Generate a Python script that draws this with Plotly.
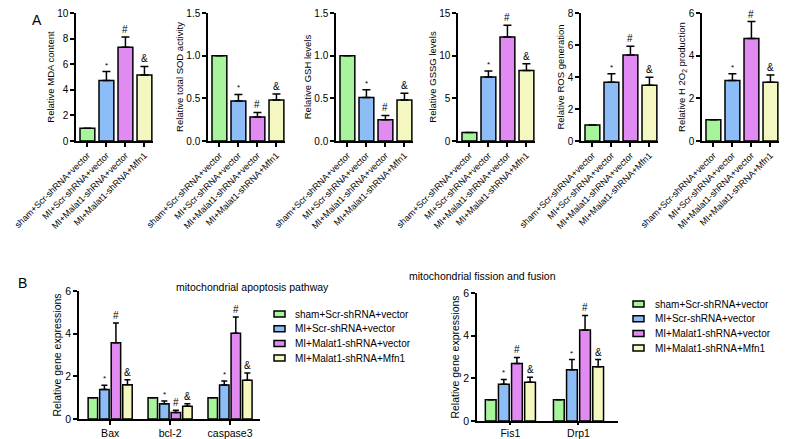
import plotly.graph_objects as go

W, H = 787, 439
FONT = "Liberation Sans, Arial, sans-serif"

groups = ["sham+Scr-shRNA+vector", "MI+Scr-shRNA+vector",
          "MI+Malat1-shRNA+vector", "MI+Malat1-shRNA+Mfn1"]
marks = ["", "*", "#", "&"]
colors = ["#a7f59b", "#8dbdf6", "#e08af2", "#f4f8c0"]

# panel A: mean and upper error bar end for each group
mda = [1.0, 4.72, 7.32, 5.15]
mda_top = [1.0, 5.42, 8.12, 5.82]
sod = [1.0, 0.47, 0.28, 0.48]
sod_top = [1.0, 0.545, 0.335, 0.55]
gsh = [1.0, 0.51, 0.25, 0.48]
gsh_top = [1.0, 0.60, 0.30, 0.56]
gssg = [1.0, 7.5, 12.2, 8.25]
gssg_top = [1.0, 8.2, 13.55, 9.05]
ros = [1.0, 3.67, 5.38, 3.48]
ros_top = [1.0, 4.2, 5.92, 3.98]
h2o2 = [1.0, 2.84, 4.8, 2.75]
h2o2_top = [1.0, 3.15, 5.6, 3.09]

a_titles = ["Relative MDA content", "Relative total SOD activity",
            "Relative GSH levels", "Relative GSSG levels",
            "Relative ROS generation", "Relative H 2O<sub>2</sub> production"]
a_ranges = [10, 1.5, 1.5, 15, 8, 6]
a_dticks = [2, 0.5, 0.5, 5, 2, 2]

# panel B: genes x groups
apop_genes = ["Bax", "bcl-2", "caspase3"]
apop = [[1.0, 1.0, 1.0], [1.38, 0.72, 1.59], [3.57, 0.31, 4.02], [1.61, 0.6, 1.82]]
apop_top = [[1.0, 1.0, 1.0], [1.58, 0.84, 1.78], [4.5, 0.41, 4.78], [1.84, 0.72, 2.16]]
fis_genes = ["Fis1", "Drp1"]
fis = [[1.0, 1.0], [1.72, 2.4], [2.7, 4.27], [1.82, 2.54]]
fis_top = [[1.0, 1.0], [1.95, 2.88], [2.98, 4.95], [2.05, 2.88]]


def xd(a, b):
    return [a / W, b / W]


def yd(top, bottom):
    return [1 - bottom / H, 1 - top / H]


def axis_style(**kw):
    d = dict(showline=True, linecolor="black", linewidth=1.5, ticks="outside",
             ticklen=4, tickwidth=1.5, tickcolor="black", showgrid=False,
             zeroline=False, automargin=False, fixedrange=True,
             tickfont=dict(size=10, color="black"))
    d.update(kw)
    return d


def mark_font(m):
    return dict(size=8 if m == "*" else 10, color="black")


fig = go.Figure()
layout = {}
annotations = []
shapes = []

a_left = [76, 208, 336, 458, 581, 702]
a_vals = [(mda, mda_top), (sod, sod_top), (gsh, gsh_top),
          (gssg, gssg_top), (ros, ros_top), (h2o2, h2o2_top)]

for i, (vals, tops) in enumerate(a_vals):
    n = i + 1
    xa, ya = f"x{n}", f"y{n}"
    fig.add_trace(go.Bar(
        x=groups, y=vals, xaxis=xa, yaxis=ya, width=0.78,
        marker=dict(color=colors, line=dict(color="black", width=1.5)),
        error_y=dict(type="data", symmetric=False,
                     array=[t - v for t, v in zip(tops, vals)],
                     arrayminus=[0] * 4, color="black", thickness=1.5, width=4),
        showlegend=False, hoverinfo="skip",
    ))
    layout[f"xaxis{n}"] = axis_style(
        domain=xd(a_left[i], a_left[i] + 77), anchor=ya, type="category",
        range=[-0.6, 3.45], tickangle=-45, tickfont=dict(size=9, color="black"))
    layout[f"yaxis{n}"] = axis_style(
        domain=yd(13, 141), anchor=xa, range=[0, a_ranges[i]], dtick=a_dticks[i],
        tickformat=".1f" if a_ranges[i] < 2 else "",
        title=dict(text=a_titles[i], font=dict(size=9.5, color="black"), standoff=1))
    for j, m in enumerate(marks):
        if m:
            annotations.append(dict(
                x=j, y=tops[j], xref=xa, yref=ya, text=m, showarrow=False,
                yanchor="bottom", yshift=0, font=mark_font(m)))

BARGAP = 0.23
b_panels = [
    (apop_genes, apop, apop_top, 7, [79, 260], [291, 419], [-0.52, 2.5], 4,
     "mitochondrial apoptosis pathway", 174, 287, (274, 293, 314)),
    (fis_genes, fis, fis_top, 8, [477, 618], [293, 421], [-0.49, 1.58], 2,
     "mitochondrial fission and fusion", 558, 276, (633, 653, 304)),
]
for genes, vals, tops, n, xr, yr, rng, tl, title, tx, ty, leg in b_panels:
    xa, ya = f"x{n}", f"y{n}"
    for g in range(4):
        fig.add_trace(go.Bar(
            x=genes, y=vals[g], name=groups[g], xaxis=xa, yaxis=ya,
            marker=dict(color=colors[g], line=dict(color="black", width=1.5)),
            error_y=dict(type="data", symmetric=False,
                         array=[t - v for t, v in zip(tops[g], vals[g])],
                         arrayminus=[0] * len(genes), color="black",
                         thickness=1.5, width=3),
            showlegend=False, hoverinfo="skip",
        ))
        slot = (1 - BARGAP) / 4
        off = (g - 1.5) * slot
        if marks[g]:
            for k in range(len(genes)):
                annotations.append(dict(
                    x=k + off, y=tops[g][k], xref=xa, yref=ya, text=marks[g],
                    showarrow=False, yanchor="bottom", yshift=0,
                    font=mark_font(marks[g])))
        # hand-drawn legend entry (Prism style flat swatch)
        sx, tx0, y0 = leg
        ry = y0 + g * 14.7
        shapes.append(dict(type="rect", xref="paper", yref="paper",
                           x0=sx / W, x1=(sx + 11) / W,
                           y0=1 - (ry + 3) / H, y1=1 - (ry - 3) / H,
                           fillcolor=colors[g], line=dict(color="black", width=1.5)))
        annotations.append(dict(x=tx0 / W, y=1 - ry / H, xref="paper", yref="paper",
                                text=groups[g], showarrow=False, xanchor="left",
                                yanchor="middle", font=dict(size=10, color="black")))
    layout[f"xaxis{n}"] = axis_style(
        domain=xd(*xr), anchor=ya, type="category", range=rng, ticklen=tl,
        tickfont=dict(size=10.5, color="black"))
    layout[f"yaxis{n}"] = axis_style(
        domain=yd(*yr), anchor=xa, range=[0, 6], dtick=2,
        tickfont=dict(size=10.5, color="black"),
        title=dict(text="Relative gene expressions",
                   font=dict(size=10.5, color="black"), standoff=2))
    annotations.append(dict(
        x=tx / W, y=1 - ty / H, xref="paper", yref="paper", text=title,
        showarrow=False, font=dict(size=10.5, color="black")))

annotations.append(dict(x=30 / W, y=1 - 10 / H, xref="paper", yref="paper", text="A",
                        showarrow=False, font=dict(size=14, color="black")))
annotations.append(dict(x=16 / W, y=1 - 283 / H, xref="paper", yref="paper", text="B",
                        showarrow=False, font=dict(size=14, color="black")))

fig.update_layout(
    **layout,
    annotations=annotations,
    shapes=shapes,
    barmode="group", bargap=BARGAP, bargroupgap=0.18,
    width=W, height=H,
    margin=dict(l=0, r=0, t=0, b=0),
    paper_bgcolor="white", plot_bgcolor="white",
    font=dict(family=FONT, color="black"),
    showlegend=False,
)

fig.write_html("out.html", config={"displayModeBar": False},
               post_script="document.body.style.margin='0';")
